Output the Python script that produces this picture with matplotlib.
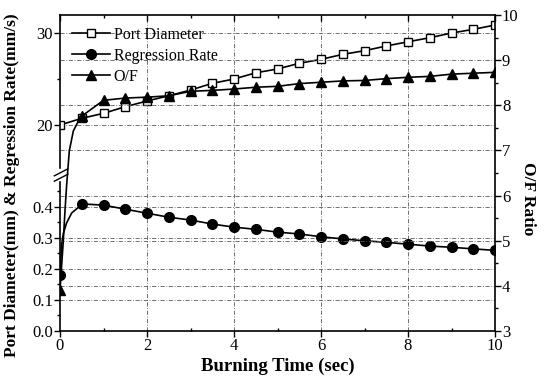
import matplotlib
matplotlib.use("Agg")
import matplotlib.pyplot as plt
import numpy as np

plt.rcParams['font.family'] = ['Liberation Serif', 'DejaVu Serif']
plt.rcParams['font.size'] = 11

# marker times (every 0.5 s)
t_marks = [0.0, 0.5, 1.0, 1.5, 2.0, 2.5, 3.0, 3.5, 4.0, 4.5, 5.0,
           5.5, 6.0, 6.5, 7.0, 7.5, 8.0, 8.5, 9.0, 9.5, 10.0]

port_diam = [20.0, 20.73, 21.27, 21.99, 22.61, 23.18, 23.80, 24.53, 25.0, 25.68, 26.09,
             26.71, 27.14, 27.68, 28.08, 28.59, 29.05, 29.49, 30.0, 30.40, 30.87]

reg_rate = [0.181, 0.410, 0.406, 0.393, 0.380, 0.367, 0.358, 0.345, 0.335, 0.328, 0.319,
            0.313, 0.304, 0.297, 0.291, 0.286, 0.280, 0.274, 0.270, 0.265, 0.260]

of_ratio = [3.90, 7.76, 8.11, 8.16, 8.18, 8.21, 8.31, 8.33, 8.36, 8.40, 8.42,
            8.48, 8.51, 8.54, 8.55, 8.59, 8.62, 8.64, 8.69, 8.71, 8.73]

# extra points on the curves (no marker) read from the steep start
reg_extra_t = [0.04, 0.08, 0.15, 0.27, 0.46]
reg_extra_v = [0.283, 0.316, 0.348, 0.381, 0.403]
of_extra_t = [0.076, 0.115, 0.154, 0.214, 0.306, 0.46]
of_extra_v = [5.0, 5.67, 6.25, 6.99, 7.43, 7.72]


def merge(tm, vm, te, ve):
    t = np.concatenate([tm, te])
    v = np.concatenate([vm, ve])
    is_mark = np.concatenate([np.ones(len(tm), bool), np.zeros(len(te), bool)])
    o = np.argsort(t, kind='stable')
    return t[o], v[o], list(np.where(is_mark[o])[0])


# broken left axis: piecewise linear scale (pixel units)
lo_top, up_bot = 0.48, 15.33
sv = [-1.0, 0.0, lo_top, up_bot, 60.0]
sp = [-310.0, 0.0, lo_top * 310, 163.0, 163.0 + (60.0 - up_bot) * 9.2]

def fwd(v):
    return np.interp(v, sv, sp)

def inv(p):
    return np.interp(p, sp, sv)


fig = plt.figure(figsize=(5.51, 3.77), dpi=100)
ax = fig.add_axes([60/551, 46/377, 435/551, 316/377])
ax.set_yscale('function', functions=(fwd, inv))
ax.set_xlim(0, 10)
ax.set_ylim(0, 31.96)

ax2 = ax.twinx()
ax2.set_ylim(3, 10)

grid_style = dict(color='0.35', lw=0.6, ls=(0, (5, 2, 1, 2)), zorder=0)
for yv in [0.1, 0.2, 0.3, 0.4, 20, 30]:
    ax.axhline(yv, **grid_style)
for yv in [4, 5, 6, 7, 8, 9]:
    ax2.axhline(yv, **grid_style)
for xv in [2, 4, 6, 8]:
    ax.axvline(xv, **grid_style)

t, v, mk = merge(t_marks, port_diam, [], [])
l1, = ax.plot(t, v, '-', color='k', lw=1.2, marker='s', ms=6, mfc='white',
              mec='k', mew=1.0, markevery=mk, label='Port Diameter')
t, v, mk = merge(t_marks, reg_rate, reg_extra_t, reg_extra_v)
l2, = ax.plot(t, v, '-', color='k', lw=1.2, marker='o', ms=7, markevery=mk,
              label='Regression Rate')
t, v, mk = merge(t_marks, of_ratio, of_extra_t, of_extra_v)
l3, = ax2.plot(t, v, '-', color='k', lw=1.2, marker='^', ms=7, markevery=mk,
               label='O/F')

ax2.legend(handles=[l1, l2, l3], loc='upper left', bbox_to_anchor=(0.0, 1.0),
           frameon=False, handlelength=2.4, handletextpad=0.2, labelspacing=0.3,
           borderaxespad=0.35, fontsize=11.5)

# ticks
ax.set_yticks([0, 0.1, 0.2, 0.3, 0.4, 20, 30])
ax.set_yticklabels(['0.0', '0.1', '0.2', '0.3', '0.4', '20', '30'])
ax.set_yticks([0.05, 0.15, 0.25, 0.35, 0.45, 25], minor=True)
ax.set_xticks([0, 2, 4, 6, 8, 10])
ax.set_xticks([1, 3, 5, 7, 9], minor=True)
ax2.set_yticks(range(3, 11))
ax2.set_yticks(np.arange(3.5, 10, 1.0), minor=True)

ax.tick_params(axis='y', which='major', direction='out', length=4, width=1, labelsize=12, pad=1)
ax.tick_params(axis='y', which='minor', direction='out', length=2.5, width=1)
ax.tick_params(axis='x', which='major', direction='out', length=4, width=1, labelsize=12, pad=1)
ax.tick_params(axis='x', which='minor', direction='in', length=2.5, width=1)
ax2.tick_params(axis='y', which='major', direction='out', length=4, width=1, labelsize=12, pad=1)
ax2.tick_params(axis='y', which='minor', direction='out', length=2.5, width=1)

top = ax.secondary_xaxis('top')
top.set_xticks([0, 2, 4, 6, 8, 10])
top.set_xticks([1, 3, 5, 7, 9], minor=True)
top.tick_params(axis='x', which='major', direction='in', length=4, width=1, labeltop=False)
top.tick_params(axis='x', which='minor', direction='in', length=2.5, width=1)
top.spines['top'].set_linewidth(1.2)

ax.spines['bottom'].set_linewidth(1.2)
ax.spines['top'].set_visible(False)
ax2.spines['right'].set_linewidth(1.2)
ax2.spines['top'].set_visible(False)
ax2.spines['left'].set_visible(False)
ax2.spines['bottom'].set_visible(False)
ax.spines['right'].set_visible(False)

# left spine with a gap and break marks
ax.spines['left'].set_visible(False)
g0 = lo_top * 310 / 316
g1 = 163.0 / 316
ax.plot([0, 0], [0, g0], color='k', lw=1.2, transform=ax.transAxes, clip_on=False)
ax.plot([0, 0], [g1, 1], color='k', lw=1.2, transform=ax.transAxes, clip_on=False)
for dy in [0.0, 0.017]:
    ax.plot([-0.013, 0.018], [0.474 + dy, 0.496 + dy], color='k', lw=1.0,
            transform=ax.transAxes, clip_on=False)

ax.set_xlabel('Burning Time (sec)', fontsize=13.5, fontweight='bold', labelpad=3)
ax.set_ylabel('Port Diameter(mm) & Regression Rate(mm/s)', fontsize=12.5,
              fontweight='bold')
ax.yaxis.set_label_coords(-0.092, 0.46)
ax2.set_ylabel('O/F Ratio', fontsize=12.5, fontweight='bold', rotation=270)
ax2.yaxis.set_label_coords(1.095, 0.42)

fig.savefig('out.png', dpi=100)
